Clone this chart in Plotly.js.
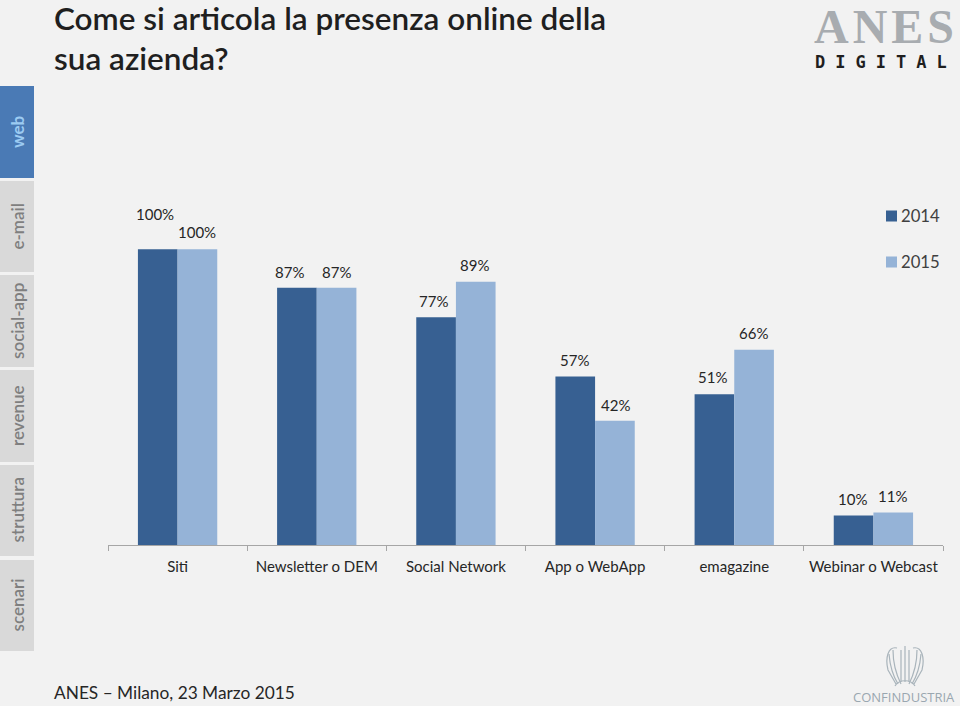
<!DOCTYPE html>
<html>
<head>
<meta charset="utf-8">
<script src="https://cdn.plot.ly/plotly-3.0.1.min.js"></script>
<style>html,body{margin:0;padding:0;background:#f2f2f2}#c{width:960px;height:706px}</style>
</head>
<body>
<div id="c"></div>
<script>
var categories = ["Siti","Newsletter o DEM","Social Network","App o WebApp","emagazine","Webinar o Webcast"];
var values2014 = [100,87,77,57,51,10];
var values2015 = [100,87,89,42,66,11];
var name2014 = "2014", name2015 = "2015";
var color2014 = "#376092", color2015 = "#95B3D7";
var tabs = ["web","e-mail","social-app","revenue","struttura","scenari"];
var tabTops = [86,181,275,370,465,560];
var tabBottoms = [178,272,367,462,556,651];
var labelLift2014 = [35,16,16,16,17,16];
var labelLift2015 = [17,16,17,16,17,16];
var labelShift2014 = [-23,-27,-22,-21,-22,-21];
var labelShift2015 = [19,20,19,20,19,19];

var W = 960, H = 706, L = 108, R = 943, T = 190, B = 545;
function px(x){ return (x - L) / (R - L); }
function py(y){ return (B - y) / (B - T); }
var FONT = "Lato, 'Open Sans', sans-serif";
var shapes = [], ann = [];

tabs.forEach(function(t,i){
  var on = i === 0;
  shapes.push({type:"rect",xref:"paper",yref:"paper",x0:px(0),x1:px(34),y0:py(tabBottoms[i]),y1:py(tabTops[i]),
    fillcolor:on?"#4A7AB5":"#D9D9D9",line:{width:0},layer:"below"});
  ann.push({xref:"paper",yref:"paper",x:px(17),y:py((tabTops[i]+tabBottoms[i])/2),text:t,textangle:-90,showarrow:false,
    font:{family:FONT,size:17,color:on?"#9CCBF2":"#7F7F7F",weight:on?700:600},xanchor:"center",yanchor:"middle"});
});

categories.forEach(function(c,i){
  ann.push({x:i,y:values2014[i],xref:"x",yref:"y",text:values2014[i]+"%",showarrow:false,xshift:labelShift2014[i],yshift:labelLift2014[i],
    font:{family:FONT,size:15,color:"#262626"},xanchor:"center",yanchor:"middle"});
  ann.push({x:i,y:values2015[i],xref:"x",yref:"y",text:values2015[i]+"%",showarrow:false,xshift:labelShift2015[i],yshift:labelLift2015[i],
    font:{family:FONT,size:15,color:"#262626"},xanchor:"center",yanchor:"middle"});
});

[[name2014,color2014,216],[name2015,color2015,262]].forEach(function(l){
  shapes.push({type:"rect",xref:"paper",yref:"paper",x0:px(886),x1:px(897),y0:py(l[2]+5.5),y1:py(l[2]-5.5),fillcolor:l[1],line:{width:0}});
  ann.push({xref:"paper",yref:"paper",x:px(901),y:py(l[2]),text:l[0],showarrow:false,xanchor:"left",yanchor:"middle",xshift:-2,
    font:{family:FONT,size:16.7,color:"#404040"}});
});

ann.push({xref:"paper",yref:"paper",x:px(54),y:py(692),text:"ANES – Milano, 23 Marzo 2015",showarrow:false,xanchor:"left",yanchor:"middle",xshift:-2,
  font:{family:FONT,size:17.3,color:"#262626"}});
ann.push({xref:"paper",yref:"paper",x:px(886),y:py(27),text:"ANES",showarrow:false,xanchor:"center",yanchor:"middle",
  font:{family:"'Liberation Serif',serif",size:48,color:"#A8ACB0",weight:700}});
ann.push({xref:"paper",yref:"paper",x:px(886),y:py(62),text:"DIGITAL",showarrow:false,xanchor:"center",yanchor:"middle",
  font:{family:"'DejaVu Sans Mono',monospace",size:17,color:"#1F1F1F",weight:700}});
ann.push({xref:"paper",yref:"paper",x:px(904),y:py(697),text:"CONFINDUSTRIA",showarrow:false,xanchor:"center",yanchor:"middle",
  font:{family:"'Open Sans',sans-serif",size:13,color:"#9AA7B0"}});
var emblem = [
  "M905,646 L905,682 M901,650 L901,682 M909,650 L909,682",
  "M897,648 C888,646 885,658 888,670 L896,684",
  "M913,648 C922,646 925,658 922,670 L914,684",
  "M893,650 C893,664 897,676 901,684 M917,650 C917,664 913,676 909,684",
  "M889,654 C890,666 893,676 898,684 M921,654 C920,666 917,676 912,684",
  "M895,686 C899,679 911,679 915,686"
];
emblem.forEach(function(d){
  var p = d.replace(/(-?\d+(?:\.\d+)?),(-?\d+(?:\.\d+)?)/g,function(m,a,b){return px(+a)+","+py(+b);});
  shapes.push({type:"path",xref:"paper",yref:"paper",path:p,line:{color:"#A9B4BB",width:1.2}});
});

var traces = [
  {type:"bar",name:name2014,x:categories,y:values2014,marker:{color:color2014,line:{width:0}},hoverinfo:"x+y"},
  {type:"bar",name:name2015,x:categories,y:values2015,marker:{color:color2015,line:{width:0}},hoverinfo:"x+y"}
];
var layout = {
  width:W,height:H,barmode:"group",bargap:0.43,bargroupgap:0,showlegend:false,
  paper_bgcolor:"#F2F2F2",plot_bgcolor:"#F2F2F2",
  margin:{l:L,r:W-R,t:T,b:H-B,pad:0},
  title:{text:"Come si articola la presenza online della<br>sua azienda?",x:54/W,xanchor:"left",y:1-29.5/H,yanchor:"top",
    font:{family:FONT,size:31.5,color:"#1F1F1F",weight:600}},
  xaxis:{type:"category",categoryorder:"array",categoryarray:categories,showline:true,linecolor:"#A6A6A6",linewidth:1,
    ticks:"outside",tickson:"boundaries",ticklen:5,tickcolor:"#A6A6A6",showgrid:false,zeroline:false,tickangle:0,
    tickfont:{family:FONT,size:15,color:"#262626"},ticklabelstandoff:8},
  yaxis:{range:[0,120],visible:false,showgrid:false,zeroline:false},
  shapes:shapes,annotations:ann
};
Plotly.newPlot("c",traces,layout,{displayModeBar:false,staticPlot:true}).then(function(){
  document.querySelectorAll("#c .annotation-text").forEach(function(n){
    if(n.textContent === "DIGITAL") n.style.letterSpacing = "10px";
    if(n.textContent === "ANES") n.style.letterSpacing = "4px";
  });
});
</script>
</body>
</html>
